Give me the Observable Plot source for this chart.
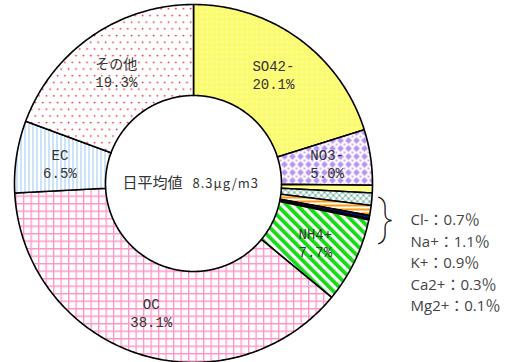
<!DOCTYPE html>
<html><head><meta charset="utf-8">
<script src="https://cdn.jsdelivr.net/npm/d3@7"></script>
<script src="https://cdn.jsdelivr.net/npm/@observablehq/plot@0.6"></script>
<style>body{margin:0;background:#fff} svg{display:block}</style>
</head><body><div id="chart"></div>
<script>
// ---- data ----
const names    = ["SO42-","NO3-","Cl-","Na+","K+","Ca2+","Mg2+","NH4+","OC","EC","その他"];
const percents = [20.1, 5.0, 0.7, 1.1, 0.9, 0.3, 0.1, 7.7, 38.1, 6.5, 19.3];
const fills    = ["url(#p-so4)","url(#p-no3)","#ffff8c","url(#p-na)","url(#p-k)","#10107a","#000000","url(#p-nh4)","url(#p-oc)","url(#p-ec)","url(#p-other)"];
const labeled  = [true, true, false, false, false, false, false, true, true, true, true];
const legendNames  = ["Cl-","Na+","K+","Ca2+","Mg2+"];
const legendValues = [0.7, 1.1, 0.9, 0.3, 0.1];
const centerTitle = "日平均値";
const centerValue = "8.3μg/m3";

// ---- geometry from data ----
const W = 517, H = 362, cx = 193, cy = 183, R = 179;
const rIn = 88 / 179;
const arcs = d3.pie().sort(null).value(d => d)(percents);
const verts = [];
arcs.forEach((a, i) => {
  const n = Math.max(2, Math.ceil((a.endAngle - a.startAngle) / 0.01));
  for (let k = 0; k <= n; k++) {
    const t = a.startAngle + (a.endAngle - a.startAngle) * k / n;
    verts.push({i, x: Math.sin(t), y: Math.cos(t), fill: fills[i]});
  }
  for (let k = n; k >= 0; k--) {
    const t = a.startAngle + (a.endAngle - a.startAngle) * k / n;
    verts.push({i, x: rIn * Math.sin(t), y: rIn * Math.cos(t), fill: fills[i]});
  }
});
const labelR = 0.755;
const labels = arcs.map((a, i) => {
  const m = (a.startAngle + a.endAngle) / 2;
  return {x: labelR * Math.sin(m), y: labelR * Math.cos(m),
          text: `${names[i]}\n${percents[i].toFixed(1)}%`, show: labeled[i]};
}).filter(d => d.show);
const legend = legendNames.map((n, i) => ({i, text: `${n}：${legendValues[i].toFixed(1)}％`}));

const plot = Plot.plot({
  width: W, height: H, margin: 0,
  x: {domain: [-1, 1], range: [cx - R, cx + R], axis: null},
  y: {domain: [-1, 1], range: [cy + R, cy - R], axis: null},
  color: {type: "identity"},
  style: {background: "white", overflow: "visible"},
  marks: [
    Plot.line(verts, {x: "x", y: "y", z: "i", fill: "fill", stroke: "#000", strokeWidth: 1.6, curve: "linear-closed"}),
    Plot.text(labels, {x: "x", y: "y", text: "text", fontFamily: "Liberation Mono, 'Noto Sans CJK JP'", fontSize: 14, lineHeight: 1.3, fill: "#333"}),
    Plot.text([centerTitle], {x: d => 0, y: d => 0, text: d => d, textAnchor: "end", dx: -11, fontFamily: "'Noto Sans CJK JP'", fontSize: 15, fill: "#333"}),
    Plot.text([centerValue], {x: d => 0, y: d => 0, text: d => d, textAnchor: "start", dx: -1, fontFamily: "'Noto Sans CJK JP'", fontSize: 13, fill: "#333"}),
    Plot.text(["}"], {x: d => (385 - cx) / R, y: d => (cy - 218) / R, text: d => d, fontFamily: "Roboto", fontSize: 48, fontWeight: 100, fill: "#111"}),
    Plot.text(legend, {x: d => (410 - cx) / R, y: d => (cy - 220 - d.i * 21.5) / R, text: "text", textAnchor: "start", fontFamily: "'Open Sans', 'Noto Sans CJK JP'", fontSize: 15, fill: "#444"})
  ]
});

const defs = `
<pattern id="p-so4" width="5" height="5" patternUnits="userSpaceOnUse">
  <rect width="5" height="5" fill="#fbfb70"/><circle cx="1.5" cy="1.5" r="0.8" fill="#ffffd8"/></pattern>
<pattern id="p-no3" width="8" height="8" patternUnits="userSpaceOnUse">
  <rect width="8" height="8" fill="#fff"/><path d="M4 0.6 L7.4 4 L4 7.4 L0.6 4Z" fill="#b894f2"/>
  <path d="M0 -1.3L1.3 0L0 1.3L-1.3 0Z M8 -1.3L9.3 0L8 1.3L6.7 0Z M0 6.7L1.3 8L0 9.3L-1.3 8Z M8 6.7L9.3 8L8 9.3L6.7 8Z" fill="#b894f2"/></pattern>
<pattern id="p-na" width="6" height="6" patternUnits="userSpaceOnUse">
  <rect width="6" height="6" fill="#fff"/><path d="M0 0L6 6M6 0L0 6" stroke="#66aa99" stroke-width="1"/></pattern>
<pattern id="p-k" width="4" height="4" patternUnits="userSpaceOnUse">
  <rect width="4" height="4" fill="#fff"/><rect width="4" height="2" fill="#ff9911"/></pattern>
<pattern id="p-nh4" width="7" height="7" patternUnits="userSpaceOnUse" patternTransform="rotate(-45)">
  <rect width="7" height="7" fill="#fff"/><rect width="3.8" height="7" fill="#11dd11"/></pattern>
<pattern id="p-oc" width="7.5" height="7.5" patternUnits="userSpaceOnUse">
  <rect width="7.5" height="7.5" fill="#fff"/><path d="M0.6 0V7.5M0 0.6H7.5" stroke="#ff94c8" stroke-width="1.4"/></pattern>
<pattern id="p-ec" width="4" height="4" patternUnits="userSpaceOnUse">
  <rect width="4" height="4" fill="#fff"/><path d="M0.5 0V4" stroke="#99c6f0" stroke-width="1"/></pattern>
<pattern id="p-other" width="7.4" height="13.4" patternUnits="userSpaceOnUse">
  <rect width="7.4" height="13.4" fill="#fff"/><circle cx="1.5" cy="1.5" r="0.9" fill="#e8283c"/><circle cx="5.2" cy="8.2" r="0.9" fill="#e8283c"/></pattern>`;
const defsEl = document.createElementNS("http://www.w3.org/2000/svg", "defs");
defsEl.innerHTML = defs;
plot.insertBefore(defsEl, plot.firstChild);
d3.select(plot).selectAll("text").filter(function() { return this.textContent === centerValue; })
  .style("letter-spacing", "1px");
document.getElementById("chart").appendChild(plot);
</script>
</body></html>
